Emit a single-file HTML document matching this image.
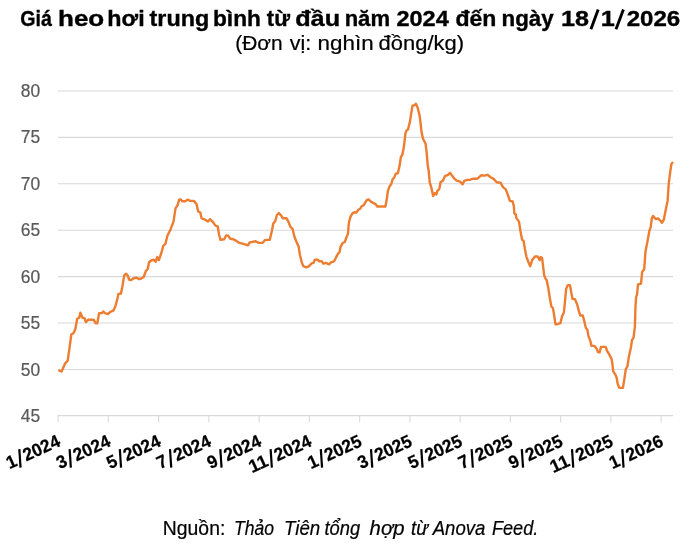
<!DOCTYPE html>
<html><head><meta charset="utf-8">
<style>
html,body{margin:0;padding:0;background:#fff;}
body{width:700px;height:552px;overflow:hidden;font-family:"Liberation Sans",sans-serif;}
svg{display:block;will-change:transform;font-family:"Liberation Sans",sans-serif;}
</style></head>
<body>
<svg width="700" height="552" viewBox="0 0 700 552">
<rect width="700" height="552" fill="#fff"/>
<text x="20.22" y="25.5" textLength="31.61" lengthAdjust="spacingAndGlyphs" font-size="21.4" font-weight="bold" fill="#000" stroke="#000" stroke-width="0.35">Giá</text>
<text x="58.01" y="25.5" textLength="46.22" lengthAdjust="spacingAndGlyphs" font-size="21.4" font-weight="bold" fill="#000" stroke="#000" stroke-width="0.35">heo</text>
<text x="107.38" y="25.5" textLength="37.30" lengthAdjust="spacingAndGlyphs" font-size="21.4" font-weight="bold" fill="#000" stroke="#000" stroke-width="0.35">hơi</text>
<text x="149.57" y="25.5" textLength="59.67" lengthAdjust="spacingAndGlyphs" font-size="21.4" font-weight="bold" fill="#000" stroke="#000" stroke-width="0.35">trung</text>
<text x="213.03" y="25.5" textLength="47.85" lengthAdjust="spacingAndGlyphs" font-size="21.4" font-weight="bold" fill="#000" stroke="#000" stroke-width="0.35">bình</text>
<text x="266.88" y="25.5" textLength="23.10" lengthAdjust="spacingAndGlyphs" font-size="21.4" font-weight="bold" fill="#000" stroke="#000" stroke-width="0.35">từ</text>
<text x="295.19" y="25.5" textLength="44.87" lengthAdjust="spacingAndGlyphs" font-size="21.4" font-weight="bold" fill="#000" stroke="#000" stroke-width="0.35">đầu</text>
<text x="344.67" y="25.5" textLength="45.34" lengthAdjust="spacingAndGlyphs" font-size="21.4" font-weight="bold" fill="#000" stroke="#000" stroke-width="0.35">năm</text>
<text x="396.50" y="25.5" textLength="52.23" lengthAdjust="spacingAndGlyphs" font-size="21.4" font-weight="bold" fill="#000" stroke="#000" stroke-width="0.35">2024</text>
<text x="455.48" y="25.5" textLength="40.92" lengthAdjust="spacingAndGlyphs" font-size="21.4" font-weight="bold" fill="#000" stroke="#000" stroke-width="0.35">đến</text>
<text x="501.55" y="25.5" textLength="52.18" lengthAdjust="spacingAndGlyphs" font-size="21.4" font-weight="bold" fill="#000" stroke="#000" stroke-width="0.35">ngày</text>
<text x="561.09" y="25.5" textLength="27.97" lengthAdjust="spacingAndGlyphs" font-size="21.4" font-weight="bold" fill="#000" stroke="#000" stroke-width="0.35">18</text>
<text x="600.78" y="25.5" textLength="14.08" lengthAdjust="spacingAndGlyphs" font-size="21.4" font-weight="bold" fill="#000" stroke="#000" stroke-width="0.35">1</text>
<text x="626.68" y="25.5" textLength="53.59" lengthAdjust="spacingAndGlyphs" font-size="21.4" font-weight="bold" fill="#000" stroke="#000" stroke-width="0.35">2026</text>
<line x1="590.9" y1="29.2" x2="598.2" y2="9.4" stroke="#000" stroke-width="2.9"/>
<line x1="616.0" y1="29.2" x2="623.4" y2="9.4" stroke="#000" stroke-width="2.9"/>
<text x="235.24" y="50.3" textLength="47.43" lengthAdjust="spacingAndGlyphs" font-size="20.7" fill="#000" stroke="#000" stroke-width="0.22">(Đơn</text>
<text x="289.70" y="50.3" textLength="21.38" lengthAdjust="spacingAndGlyphs" font-size="20.7" fill="#000" stroke="#000" stroke-width="0.22">vị:</text>
<text x="317.64" y="50.3" textLength="56.02" lengthAdjust="spacingAndGlyphs" font-size="20.7" fill="#000" stroke="#000" stroke-width="0.22">nghìn</text>
<text x="378.62" y="50.3" textLength="85.45" lengthAdjust="spacingAndGlyphs" font-size="20.7" fill="#000" stroke="#000" stroke-width="0.22">đồng/kg)</text>

<line x1="58" x2="673" y1="91.0" y2="91.0" stroke="#d9d9d9" stroke-width="1.1"/>
<line x1="58" x2="673" y1="137.4" y2="137.4" stroke="#d9d9d9" stroke-width="1.1"/>
<line x1="58" x2="673" y1="183.8" y2="183.8" stroke="#d9d9d9" stroke-width="1.1"/>
<line x1="58" x2="673" y1="230.2" y2="230.2" stroke="#d9d9d9" stroke-width="1.1"/>
<line x1="58" x2="673" y1="276.6" y2="276.6" stroke="#d9d9d9" stroke-width="1.1"/>
<line x1="58" x2="673" y1="323.0" y2="323.0" stroke="#d9d9d9" stroke-width="1.1"/>
<line x1="58" x2="673" y1="369.5" y2="369.5" stroke="#d9d9d9" stroke-width="1.1"/>
<line x1="57.6" x2="673" y1="415.6" y2="415.6" stroke="#d9d9d9" stroke-width="1.1"/>
<line x1="58.1" x2="58.1" y1="415.6" y2="422.2" stroke="#dcdcdc" stroke-width="1.2"/>
<line x1="108.3" x2="108.3" y1="415.6" y2="422.2" stroke="#dcdcdc" stroke-width="1.2"/>
<line x1="158.6" x2="158.6" y1="415.6" y2="422.2" stroke="#dcdcdc" stroke-width="1.2"/>
<line x1="208.8" x2="208.8" y1="415.6" y2="422.2" stroke="#dcdcdc" stroke-width="1.2"/>
<line x1="259.1" x2="259.1" y1="415.6" y2="422.2" stroke="#dcdcdc" stroke-width="1.2"/>
<line x1="309.4" x2="309.4" y1="415.6" y2="422.2" stroke="#dcdcdc" stroke-width="1.2"/>
<line x1="359.6" x2="359.6" y1="415.6" y2="422.2" stroke="#dcdcdc" stroke-width="1.2"/>
<line x1="409.9" x2="409.9" y1="415.6" y2="422.2" stroke="#dcdcdc" stroke-width="1.2"/>
<line x1="460.1" x2="460.1" y1="415.6" y2="422.2" stroke="#dcdcdc" stroke-width="1.2"/>
<line x1="510.4" x2="510.4" y1="415.6" y2="422.2" stroke="#dcdcdc" stroke-width="1.2"/>
<line x1="560.6" x2="560.6" y1="415.6" y2="422.2" stroke="#dcdcdc" stroke-width="1.2"/>
<line x1="610.9" x2="610.9" y1="415.6" y2="422.2" stroke="#dcdcdc" stroke-width="1.2"/>
<line x1="661.1" x2="661.1" y1="415.6" y2="422.2" stroke="#dcdcdc" stroke-width="1.2"/>

<path d="M59.3,370.6 L61.6,371.4 L65.2,363.3 L67.7,360.7 L69.5,348.1 L71.3,334.5 L73.7,332.9 L75.4,328.8 L77.2,318.7 L79.2,317.7 L80.4,312.6 L82.5,317.7 L84.5,318.1 L85.9,322.1 L88.1,319.7 L93.6,319.7 L95.6,323.2 L97.3,323.2 L99.1,313.2 L102.1,313.0 L103.2,311.4 L104.8,313.0 L107.8,314.2 L110.3,311.8 L113.3,310.6 L115.3,306.5 L117.0,300.4 L118.4,293.9 L121.0,293.5 L122.6,285.2 L124.3,275.1 L126.1,273.7 L127.5,275.1 L129.1,279.7 L131.2,280.1 L133.2,278.5 L136.2,277.7 L139.3,279.1 L141.3,278.5 L143.7,277.0 L145.7,271.3 L147.7,268.9 L149.1,262.2 L151.2,260.5 L153.8,259.7 L155.6,261.8 L157.2,257.1 L158.9,260.1 L161.3,253.0 L163.3,245.9 L165.4,243.9 L167.4,235.8 L170.4,229.7 L173.5,221.6 L175.5,208.4 L177.5,205.4 L179.2,199.7 L180.6,199.3 L182.2,201.3 L185.0,201.3 L187.7,199.7 L190.3,200.9 L193.8,200.9 L196.4,203.9 L198.2,211.4 L200.3,212.5 L201.5,218.1 L204.9,219.6 L208.0,221.6 L210.0,219.2 L213.0,222.2 L215.5,225.6 L217.7,226.3 L219.1,234.8 L220.5,239.9 L224.2,239.2 L226.2,235.4 L228.3,235.8 L230.3,238.8 L233.3,239.2 L236.4,240.9 L239.4,242.9 L243.5,243.9 L248.1,245.3 L249.6,242.5 L252.6,241.9 L255.6,241.3 L258.7,242.9 L262.7,242.9 L264.8,240.1 L269.8,239.8 L271.9,230.7 L273.3,223.6 L275.3,221.0 L276.9,215.0 L278.8,213.1 L281.3,215.6 L282.7,218.3 L286.4,218.1 L288.4,221.7 L290.4,226.8 L292.5,228.8 L294.5,237.0 L296.5,242.0 L298.5,246.1 L300.0,255.2 L302.0,263.3 L303.6,266.4 L306.3,267.4 L308.7,266.4 L311.7,263.3 L313.4,262.9 L314.8,259.7 L317.8,259.7 L319.4,261.3 L321.9,261.3 L323.3,263.7 L325.9,262.9 L329.0,264.3 L331.0,262.3 L334.1,261.3 L336.1,257.2 L338.1,253.6 L339.5,252.2 L340.5,247.1 L342.6,243.0 L344.8,242.0 L346.2,238.0 L347.9,233.9 L348.9,222.7 L350.3,217.1 L352.3,213.6 L354.3,212.2 L356.4,212.6 L358.4,209.6 L360.0,209.0 L361.4,206.5 L363.9,204.9 L366.5,200.4 L368.5,199.4 L371.2,201.9 L373.6,203.1 L375.6,204.1 L377.3,206.5 L385.4,206.5 L386.8,199.0 L387.8,191.4 L389.5,186.4 L391.2,184.3 L392.6,179.3 L394.2,177.6 L395.8,173.6 L397.9,173.2 L399.7,165.1 L400.9,157.0 L402.3,154.9 L403.9,146.8 L405.4,133.6 L406.4,130.6 L408.0,129.6 L410.0,121.4 L411.4,112.3 L412.5,105.6 L414.5,105.2 L415.9,103.8 L417.5,107.2 L419.6,115.4 L420.6,123.5 L421.6,132.6 L423.0,138.7 L425.6,143.8 L426.7,152.9 L427.7,165.1 L428.7,171.2 L429.7,182.3 L431.3,187.4 L433.2,195.9 L434.8,193.1 L436.4,194.5 L437.4,190.8 L439.4,188.8 L440.5,182.3 L442.9,180.7 L444.9,176.2 L448.0,174.8 L450.0,172.8 L452.0,175.6 L454.1,178.3 L456.7,180.7 L460.1,181.7 L462.6,184.3 L464.2,180.9 L467.2,179.9 L470.3,179.7 L473.3,178.7 L477.4,178.7 L481.4,175.2 L484.5,175.6 L487.5,174.8 L490.6,177.2 L493.6,178.9 L496.7,182.3 L500.6,182.8 L503.2,187.4 L505.8,189.4 L507.9,195.0 L509.9,200.8 L512.7,201.5 L513.9,206.4 L514.3,213.1 L515.8,214.5 L516.4,218.1 L519.0,221.6 L520.4,230.7 L522.1,239.9 L523.5,240.5 L524.9,249.0 L526.5,257.1 L528.5,262.2 L530.2,266.2 L532.2,260.1 L535.0,256.5 L537.7,256.5 L539.7,260.1 L540.7,257.1 L542.1,258.1 L543.2,267.2 L544.2,275.4 L545.4,278.4 L546.7,280.2 L548.3,288.1 L549.7,297.2 L551.3,306.4 L552.9,308.0 L553.9,313.5 L555.4,324.2 L557.4,324.2 L560.4,323.2 L562.1,316.1 L563.9,312.5 L564.9,302.3 L566.1,289.1 L567.9,285.1 L570.0,285.1 L571.2,292.2 L572.6,298.9 L575.0,299.3 L577.1,304.3 L578.7,310.4 L580.3,315.5 L582.8,315.5 L584.4,321.6 L585.8,327.7 L587.4,329.7 L588.4,335.8 L590.3,340.9 L591.5,345.9 L594.5,345.9 L596.5,348.4 L598.0,352.0 L599.6,352.4 L601.0,346.9 L605.7,346.9 L607.1,351.0 L609.1,354.1 L611.6,359.1 L612.6,365.2 L613.2,371.3 L615.2,374.3 L616.6,377.4 L617.6,383.5 L619.3,387.9 L622.9,387.9 L624.3,379.4 L625.8,369.3 L627.4,366.2 L628.8,357.1 L630.8,348.0 L632.1,339.9 L633.5,337.8 L634.9,326.7 L635.5,306.4 L636.1,297.2 L637.1,294.2 L638.0,284.5 L641.0,283.6 L642.2,271.7 L644.2,269.2 L645.5,251.4 L647.5,241.3 L649.3,231.2 L650.6,227.4 L651.8,218.5 L653.1,215.9 L655.7,219.0 L658.2,218.5 L660.0,220.3 L662.0,222.8 L663.8,219.7 L665.8,209.6 L667.6,200.7 L668.8,183.0 L670.1,172.8 L671.4,163.9 L672.4,162.7" fill="none" stroke="#ed7d31" stroke-width="2.4" stroke-linejoin="round" stroke-linecap="round"/>
<text x="20.7" y="97.0" textLength="19.4" lengthAdjust="spacingAndGlyphs" font-size="17.5" stroke="#595959" stroke-width="0.2" fill="#595959">80</text>
<text x="20.7" y="143.4" textLength="19.4" lengthAdjust="spacingAndGlyphs" font-size="17.5" stroke="#595959" stroke-width="0.2" fill="#595959">75</text>
<text x="20.7" y="189.8" textLength="19.4" lengthAdjust="spacingAndGlyphs" font-size="17.5" stroke="#595959" stroke-width="0.2" fill="#595959">70</text>
<text x="20.7" y="236.2" textLength="19.4" lengthAdjust="spacingAndGlyphs" font-size="17.5" stroke="#595959" stroke-width="0.2" fill="#595959">65</text>
<text x="20.7" y="282.6" textLength="19.4" lengthAdjust="spacingAndGlyphs" font-size="17.5" stroke="#595959" stroke-width="0.2" fill="#595959">60</text>
<text x="20.7" y="329.0" textLength="19.4" lengthAdjust="spacingAndGlyphs" font-size="17.5" stroke="#595959" stroke-width="0.2" fill="#595959">55</text>
<text x="20.7" y="375.5" textLength="19.4" lengthAdjust="spacingAndGlyphs" font-size="17.5" stroke="#595959" stroke-width="0.2" fill="#595959">50</text>
<text x="20.7" y="421.9" textLength="19.4" lengthAdjust="spacingAndGlyphs" font-size="17.5" stroke="#595959" stroke-width="0.2" fill="#595959">45</text>
<g transform="translate(61.5,445.4) rotate(-24.6)"><text x="-57.30" y="0" textLength="9.70" font-size="18.0" lengthAdjust="spacingAndGlyphs" font-weight="bold" fill="#000" stroke="#000" stroke-width="0.25">1</text><line x1="-46.50" y1="3.2" x2="-39.90" y2="-14.2" stroke="#000" stroke-width="2.2"/><text x="-38.81" y="0" textLength="38.81" font-size="18.0" lengthAdjust="spacingAndGlyphs" font-weight="bold" fill="#000" stroke="#000" stroke-width="0.25">2024</text></g>
<g transform="translate(111.8,445.4) rotate(-24.6)"><text x="-57.30" y="0" textLength="9.70" font-size="18.0" lengthAdjust="spacingAndGlyphs" font-weight="bold" fill="#000" stroke="#000" stroke-width="0.25">3</text><line x1="-46.50" y1="3.2" x2="-39.90" y2="-14.2" stroke="#000" stroke-width="2.2"/><text x="-38.81" y="0" textLength="38.81" font-size="18.0" lengthAdjust="spacingAndGlyphs" font-weight="bold" fill="#000" stroke="#000" stroke-width="0.25">2024</text></g>
<g transform="translate(162.0,445.4) rotate(-24.6)"><text x="-57.30" y="0" textLength="9.70" font-size="18.0" lengthAdjust="spacingAndGlyphs" font-weight="bold" fill="#000" stroke="#000" stroke-width="0.25">5</text><line x1="-46.50" y1="3.2" x2="-39.90" y2="-14.2" stroke="#000" stroke-width="2.2"/><text x="-38.81" y="0" textLength="38.81" font-size="18.0" lengthAdjust="spacingAndGlyphs" font-weight="bold" fill="#000" stroke="#000" stroke-width="0.25">2024</text></g>
<g transform="translate(212.2,445.4) rotate(-24.6)"><text x="-57.30" y="0" textLength="9.70" font-size="18.0" lengthAdjust="spacingAndGlyphs" font-weight="bold" fill="#000" stroke="#000" stroke-width="0.25">7</text><line x1="-46.50" y1="3.2" x2="-39.90" y2="-14.2" stroke="#000" stroke-width="2.2"/><text x="-38.81" y="0" textLength="38.81" font-size="18.0" lengthAdjust="spacingAndGlyphs" font-weight="bold" fill="#000" stroke="#000" stroke-width="0.25">2024</text></g>
<g transform="translate(262.5,445.4) rotate(-24.6)"><text x="-57.30" y="0" textLength="9.70" font-size="18.0" lengthAdjust="spacingAndGlyphs" font-weight="bold" fill="#000" stroke="#000" stroke-width="0.25">9</text><line x1="-46.50" y1="3.2" x2="-39.90" y2="-14.2" stroke="#000" stroke-width="2.2"/><text x="-38.81" y="0" textLength="38.81" font-size="18.0" lengthAdjust="spacingAndGlyphs" font-weight="bold" fill="#000" stroke="#000" stroke-width="0.25">2024</text></g>
<g transform="translate(312.8,445.4) rotate(-24.6)"><text x="-67.00" y="0" textLength="19.40" font-size="18.0" lengthAdjust="spacingAndGlyphs" font-weight="bold" fill="#000" stroke="#000" stroke-width="0.25">11</text><line x1="-46.50" y1="3.2" x2="-39.90" y2="-14.2" stroke="#000" stroke-width="2.2"/><text x="-38.81" y="0" textLength="38.81" font-size="18.0" lengthAdjust="spacingAndGlyphs" font-weight="bold" fill="#000" stroke="#000" stroke-width="0.25">2024</text></g>
<g transform="translate(363.0,445.4) rotate(-24.6)"><text x="-57.30" y="0" textLength="9.70" font-size="18.0" lengthAdjust="spacingAndGlyphs" font-weight="bold" fill="#000" stroke="#000" stroke-width="0.25">1</text><line x1="-46.50" y1="3.2" x2="-39.90" y2="-14.2" stroke="#000" stroke-width="2.2"/><text x="-38.81" y="0" textLength="38.81" font-size="18.0" lengthAdjust="spacingAndGlyphs" font-weight="bold" fill="#000" stroke="#000" stroke-width="0.25">2025</text></g>
<g transform="translate(413.2,445.4) rotate(-24.6)"><text x="-57.30" y="0" textLength="9.70" font-size="18.0" lengthAdjust="spacingAndGlyphs" font-weight="bold" fill="#000" stroke="#000" stroke-width="0.25">3</text><line x1="-46.50" y1="3.2" x2="-39.90" y2="-14.2" stroke="#000" stroke-width="2.2"/><text x="-38.81" y="0" textLength="38.81" font-size="18.0" lengthAdjust="spacingAndGlyphs" font-weight="bold" fill="#000" stroke="#000" stroke-width="0.25">2025</text></g>
<g transform="translate(463.5,445.4) rotate(-24.6)"><text x="-57.30" y="0" textLength="9.70" font-size="18.0" lengthAdjust="spacingAndGlyphs" font-weight="bold" fill="#000" stroke="#000" stroke-width="0.25">5</text><line x1="-46.50" y1="3.2" x2="-39.90" y2="-14.2" stroke="#000" stroke-width="2.2"/><text x="-38.81" y="0" textLength="38.81" font-size="18.0" lengthAdjust="spacingAndGlyphs" font-weight="bold" fill="#000" stroke="#000" stroke-width="0.25">2025</text></g>
<g transform="translate(513.8,445.4) rotate(-24.6)"><text x="-57.30" y="0" textLength="9.70" font-size="18.0" lengthAdjust="spacingAndGlyphs" font-weight="bold" fill="#000" stroke="#000" stroke-width="0.25">7</text><line x1="-46.50" y1="3.2" x2="-39.90" y2="-14.2" stroke="#000" stroke-width="2.2"/><text x="-38.81" y="0" textLength="38.81" font-size="18.0" lengthAdjust="spacingAndGlyphs" font-weight="bold" fill="#000" stroke="#000" stroke-width="0.25">2025</text></g>
<g transform="translate(564.0,445.4) rotate(-24.6)"><text x="-57.30" y="0" textLength="9.70" font-size="18.0" lengthAdjust="spacingAndGlyphs" font-weight="bold" fill="#000" stroke="#000" stroke-width="0.25">9</text><line x1="-46.50" y1="3.2" x2="-39.90" y2="-14.2" stroke="#000" stroke-width="2.2"/><text x="-38.81" y="0" textLength="38.81" font-size="18.0" lengthAdjust="spacingAndGlyphs" font-weight="bold" fill="#000" stroke="#000" stroke-width="0.25">2025</text></g>
<g transform="translate(614.2,445.4) rotate(-24.6)"><text x="-67.00" y="0" textLength="19.40" font-size="18.0" lengthAdjust="spacingAndGlyphs" font-weight="bold" fill="#000" stroke="#000" stroke-width="0.25">11</text><line x1="-46.50" y1="3.2" x2="-39.90" y2="-14.2" stroke="#000" stroke-width="2.2"/><text x="-38.81" y="0" textLength="38.81" font-size="18.0" lengthAdjust="spacingAndGlyphs" font-weight="bold" fill="#000" stroke="#000" stroke-width="0.25">2025</text></g>
<g transform="translate(664.5,445.4) rotate(-24.6)"><text x="-57.30" y="0" textLength="9.70" font-size="18.0" lengthAdjust="spacingAndGlyphs" font-weight="bold" fill="#000" stroke="#000" stroke-width="0.25">1</text><line x1="-46.50" y1="3.2" x2="-39.90" y2="-14.2" stroke="#000" stroke-width="2.2"/><text x="-38.81" y="0" textLength="38.81" font-size="18.0" lengthAdjust="spacingAndGlyphs" font-weight="bold" fill="#000" stroke="#000" stroke-width="0.25">2026</text></g>

<text x="162.85" y="535.3" textLength="62.45" lengthAdjust="spacingAndGlyphs" font-size="20.5" fill="#000" stroke="#000" stroke-width="0.22">Nguồn:</text>
<text x="234.11" y="535.3" textLength="40.04" lengthAdjust="spacingAndGlyphs" font-size="20.5" font-style="italic" fill="#000" stroke="#000" stroke-width="0.22">Thảo</text>
<text x="284.01" y="535.3" textLength="36.26" lengthAdjust="spacingAndGlyphs" font-size="20.5" font-style="italic" fill="#000" stroke="#000" stroke-width="0.22">Tiên</text>
<text x="324.47" y="535.3" textLength="35.74" lengthAdjust="spacingAndGlyphs" font-size="20.5" font-style="italic" fill="#000" stroke="#000" stroke-width="0.22">tổng</text>
<text x="369.60" y="535.3" textLength="34.84" lengthAdjust="spacingAndGlyphs" font-size="20.5" font-style="italic" fill="#000" stroke="#000" stroke-width="0.22">hợp</text>
<text x="411.06" y="535.3" textLength="17.10" lengthAdjust="spacingAndGlyphs" font-size="20.5" font-style="italic" fill="#000" stroke="#000" stroke-width="0.22">từ</text>
<text x="432.73" y="535.3" textLength="52.65" lengthAdjust="spacingAndGlyphs" font-size="20.5" font-style="italic" fill="#000" stroke="#000" stroke-width="0.22">Anova</text>
<text x="491.96" y="535.3" textLength="46.38" lengthAdjust="spacingAndGlyphs" font-size="20.5" font-style="italic" fill="#000" stroke="#000" stroke-width="0.22">Feed.</text>

</svg>
</body></html>
